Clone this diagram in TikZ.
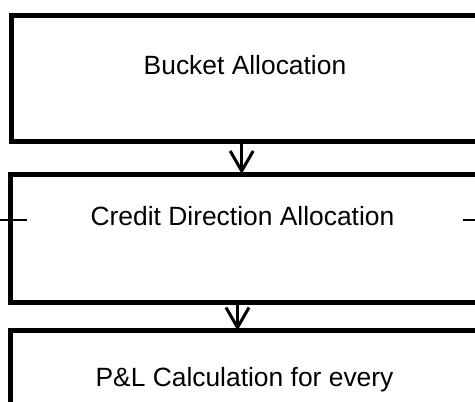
\documentclass[tikz,border=0pt]{standalone}
\usepackage{fontspec}
\setmainfont{Liberation Sans}
\usetikzlibrary{arrows.meta}
\begin{document}
\begin{tikzpicture}[x=1pt,y=-1pt,
  box/.style={draw=black,line width=5pt,outer sep=0pt,inner sep=0pt,anchor=north west,fill=none},
  lbl/.style={anchor=base,inner sep=0pt,font=\fontsize{26.4pt}{30pt}\selectfont},
  flow/.style={line width=3.3pt,-{Straight Barb[length=20pt,width=23pt,line width=3pt]}},
  tick/.style={line width=1.3pt}]
\useasboundingbox (0,0) rectangle (475,402);
\clip (0,0) rectangle (475,402);
\node[box,minimum width=480pt,minimum height=126.2pt] (b1) at (11.5,15.5) {};
\node[box,minimum width=480pt,minimum height=128.5pt] (b2) at (10,174) {};
\node[box,minimum width=480pt,minimum height=130pt] (b3) at (10,330.5) {};
\node[lbl] (t1) at (245,74) {Bucket Allocation};
\node[lbl] (t2) at (242.5,225) {Credit Direction Allocation};
\node[lbl] (t3) at (244.5,386.7) {P\&L Calculation for every};
\coordinate (a1) at (241.7,0);
\coordinate (a2) at (237.5,0);
\draw[flow] (a1 |- b1.south) -- (a1 |- b2.north);
\draw[flow] (a2 |- b2.south) -- (a2 |- b3.north);
\coordinate (l0) at (0,220);
\coordinate (l1) at (27,220);
\coordinate (r0) at (463,220);
\coordinate (r1) at (475,220);
\draw[tick] (l0) -- (l1);
\draw[tick] (r0) -- (r1);
\end{tikzpicture}
\end{document}
